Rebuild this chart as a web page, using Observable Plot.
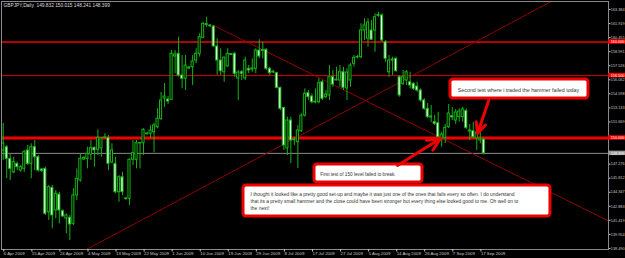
<!DOCTYPE html>
<html><head><meta charset="utf-8">
<script src="https://cdn.jsdelivr.net/npm/d3@7"></script>
<script src="https://cdn.jsdelivr.net/npm/@observablehq/plot@0.6"></script>
<style>
html,body{margin:0;padding:0;background:#000;}
#chart{width:625px;height:258px;overflow:hidden;}
</style></head><body><div id="chart"></div>
<script>
const chartTitle = "GBPJPY,Daily  149.832 150.015 148.241 148.399";
const open = [148.70,149.04,147.83,146.43,147.31,146.61,146.79,148.70,147.31,149.04,148.00,146.72,146.79,142.27,144.81,142.45,144.11,142.37,141.61,141.69,141.06,144.01,145.57,147.76,147.83,148.28,148.98,148.77,148.91,150.00,150.02,147.45,147.31,144.35,145.91,143.65,143.67,147.73,147.73,149.43,149.46,150.42,150.44,150.60,151.13,152.00,154.11,154.01,153.98,158.49,158.77,156.51,156.17,157.24,157.37,158.07,158.77,160.44,161.77,161.72,161.61,159.53,158.07,156.85,157.45,158.65,158.77,156.20,156.85,156.20,157.21,157.13,157.21,159.11,159.06,159.19,157.21,156.92,156.75,155.23,153.14,148.91,151.82,149.84,149.56,150.71,152.34,154.67,154.32,153.80,153.73,155.81,154.25,154.43,156.33,156.09,155.99,156.85,155.16,155.99,157.73,158.44,158.42,161.20,160.36,161.20,161.20,162.71,162.76,159.98,156.85,158.18,158.25,156.33,155.65,155.99,155.81,155.65,155.36,154.95,153.91,153.04,152.24,151.65,151.54,149.92,150.02,151.13,152.29,151.82,152.17,152.17,152.81,150.68,150.71,149.95,149.74,149.832];
const high = [151.51,149.22,148.38,147.99,147.48,147.14,148.70,149.22,149.39,149.74,148.18,146.82,146.96,145.05,145.05,144.53,144.35,142.52,142.10,141.93,144.71,146.79,148.35,148.07,149.04,149.74,149.04,150.85,150.05,150.44,150.26,149.39,148.00,146.09,146.43,143.83,147.83,149.74,149.74,149.56,150.96,150.60,151.30,151.54,153.04,154.74,155.68,154.32,159.11,159.11,160.50,158.59,158.59,157.45,158.59,159.29,160.85,162.06,162.58,161.82,161.72,160.33,159.29,158.42,159.29,158.80,158.94,157.03,157.03,158.42,157.55,158.25,159.29,160.23,159.98,159.29,157.37,157.03,156.85,155.29,153.14,152.17,152.17,150.08,151.30,152.52,155.12,154.95,154.60,155.12,156.17,155.99,154.95,157.55,157.03,157.37,157.55,157.37,157.21,157.73,158.59,158.59,161.90,162.42,162.42,162.24,162.94,163.10,162.94,160.16,158.59,158.42,158.42,156.51,157.03,157.03,156.85,155.78,155.81,155.12,154.11,153.59,153.39,152.34,152.69,150.60,151.41,153.49,153.18,152.97,153.04,153.21,153.02,151.41,151.65,150.89,150.60,150.015];
const low = [147.66,145.78,145.57,146.27,146.61,146.43,146.43,147.14,145.75,146.61,146.43,146.40,141.93,141.41,140.54,141.58,141.06,141.75,140.02,139.32,140.89,143.49,145.40,147.66,146.79,147.66,146.96,148.18,148.00,149.92,146.61,147.31,144.19,143.31,144.01,143.49,142.97,147.14,146.79,146.79,148.18,150.26,149.92,148.46,150.96,151.82,153.18,153.49,153.91,156.69,156.33,155.12,154.95,157.13,155.47,157.73,158.42,160.33,161.54,161.51,159.46,156.51,156.51,155.81,157.37,158.59,156.33,153.91,155.99,155.99,156.69,156.85,156.69,158.25,158.25,157.03,156.51,156.72,155.12,152.86,148.70,148.18,147.34,149.22,146.82,150.60,152.17,153.91,153.56,153.56,153.56,153.91,154.08,153.91,155.29,155.94,155.29,154.95,153.91,155.29,157.37,158.25,158.25,160.16,159.46,160.16,158.94,162.58,159.98,157.90,156.33,156.51,156.85,154.25,155.47,155.47,155.12,154.95,154.77,153.73,152.86,152.03,151.61,151.30,149.92,149.04,149.43,150.99,151.82,151.41,151.65,151.65,150.89,149.74,149.92,148.70,149.39,148.241];
const close = [149.43,147.83,146.79,147.48,146.96,146.96,148.52,147.31,149.04,148.00,146.61,146.56,142.10,144.88,141.93,144.19,142.45,141.82,141.93,140.99,144.01,145.75,147.83,147.92,148.35,148.94,148.70,150.02,149.95,150.05,147.31,148.70,144.35,145.91,144.35,143.70,147.73,148.42,149.46,149.48,150.85,150.47,150.78,151.30,152.00,153.91,154.32,153.80,158.77,158.70,156.51,156.17,157.55,157.34,157.97,158.77,160.50,161.90,161.87,161.65,159.53,158.07,156.96,158.38,158.77,158.75,156.69,156.82,156.69,158.07,157.03,157.24,159.11,158.49,159.17,157.21,156.75,156.82,155.23,153.04,149.22,151.82,149.74,149.77,150.78,152.34,154.60,154.25,153.73,153.70,155.71,154.08,154.53,156.33,155.57,155.99,156.85,155.23,156.82,157.55,158.35,158.39,161.20,161.72,162.03,160.23,162.58,162.81,160.16,158.25,158.07,158.07,156.96,154.43,156.33,156.85,155.47,155.12,154.95,153.91,153.04,152.17,152.14,151.48,150.08,150.36,151.06,152.55,152.14,152.66,152.76,152.97,151.04,150.78,150.08,150.57,149.92,148.399];
const dateLabels = ["6 Apr 2009","15 Apr 2009","24 Apr 2009","4 May 2009","13 May 2009","22 May 2009","1 Jun 2009","10 Jun 2009","19 Jun 2009","29 Jun 2009","8 Jul 2009","17 Jul 2009","27 Jul 2009","5 Aug 2009","14 Aug 2009","26 Aug 2009","7 Sep 2009","17 Sep 2009"];
const barsPerDateLabel = 8;
const priceTicks = [163.384,161.919,160.455,158.991,157.526,156.062,154.598,153.133,151.669,147.276,145.812,144.347,142.883,141.419,139.954,138.490];
const levels = [160.000, 156.500, 150.000];
const bidPrice = 148.399;
const trendUp = [[23.75, 138.39], [141.8, 161.41]];
const trendDown = [[60, 161.72], [172.3, 141.41]];
const notes = [
  {text: "Second test where i traded the hammer failed today", box: [127.5, 166.85, 154.11, 156.09], tx: 129.6, ty: 155.07, size: 5.3, from: [138.4, 153.91], to: [135.2, 150.48]},
  {text: "First test of 150 level failed to break.", box: [88.74, 119.53, 145.36, 147.24], tx: 90.4, ty: 146.3, size: 4.7, from: [112.4, 147.14], to: [124.65, 149.95]},
  {text: "I thought it looked like a pretty good set-up and maybe it was just one of the ones that fails every so often. I do understand\nthat its a pretty small hammer and the close could have been stronger but every thing else looked good to me. Oh well on to\nthe next!", box: [68.5, 156.0, 141.82, 145.05], tx: 70.5, ty: 143.45, size: 4.9}
];

const bars = open.map((o, i) => ({i, open: o, high: high[i], low: low[i], close: close[i]}));
const xDomain = [-0.485, 172.55];
const yDomain = [138.385, 164.219];
const green = "#14b414";
function extend(a, b, xs) {
  const m = (b[1] - a[1]) / (b[0] - a[0]);
  return xs.map(x => ({x, y: a[1] + m * (x - a[0])}));
}
const upLine = extend(trendUp[0], trendUp[1], xDomain);
const downLine = extend(trendDown[0], trendDown[1], [trendDown[0][0], xDomain[1]]);
const tickIdx = dateLabels.map((_, k) => k * barsPerDateLabel);
const labelW = 17 / 3.508;
const arrows = notes.filter(n => n.from);

const chart = Plot.plot({
  width: 625, height: 258,
  marginLeft: 1, marginTop: 1, marginRight: 17, marginBottom: 9,
  style: {background: "#000", color: "#c8c8c8", fontFamily: "'Liberation Sans', Arial, sans-serif"},
  x: {type: "linear", domain: xDomain},
  y: {type: "linear", domain: yDomain},
  marks: [
    Plot.ruleY([bidPrice], {stroke: "#8a8a8a", strokeWidth: 1}),
    Plot.ruleY([levels[0]], {stroke: "#f00000", strokeWidth: 1.6}),
    Plot.ruleY([levels[1]], {stroke: "#d80000", strokeWidth: 1}),
    Plot.ruleY([levels[2]], {stroke: "#f00000", strokeWidth: 3}),
    Plot.line(upLine, {x: "x", y: "y", stroke: "#a00000", strokeWidth: 1, strokeDasharray: "2,1", clip: true}),
    Plot.line(downLine, {x: "x", y: "y", stroke: "#a00000", strokeWidth: 1, strokeDasharray: "2,1", clip: true}),
    Plot.ruleX(bars, {x: "i", y1: "low", y2: "high", stroke: green, strokeWidth: 1}),
    Plot.rect(bars, {x1: d => d.i - 0.3, x2: d => d.i + 0.3, y1: "open", y2: "close",
      fill: d => d.close < d.open ? "#ffffff" : "#000000", stroke: green, strokeWidth: 1}),
    Plot.frame({stroke: "#8a8a8a"}),
    Plot.axisY(priceTicks, {anchor: "right", tickSize: 1.5, tickPadding: 0.8, fontSize: 3.8, tickFormat: d => d.toFixed(3)}),
    Plot.axisX(tickIdx, {anchor: "bottom", tickSize: 2.5, tickPadding: 0, fontSize: 4.3, textAnchor: "start", dx: 0.6,
      tickFormat: d => dateLabels[Math.round(d / barsPerDateLabel)]}),
    Plot.rect(levels, {x1: xDomain[1], x2: xDomain[1] + labelW, y1: d => d - 0.23, y2: d => d + 0.23, fill: "#ff0000"}),
    Plot.text(levels, {x: xDomain[1], y: d => d, dx: 2.2, text: d => d.toFixed(3), textAnchor: "start", fill: "#ffffff", fontSize: 3.8}),
    Plot.rect([bidPrice], {x1: xDomain[1], x2: xDomain[1] + labelW, y1: d => d - 0.23, y2: d => d + 0.23, fill: "#9a9a9a"}),
    Plot.text([bidPrice], {x: xDomain[1], y: d => d, dx: 2.2, text: d => d.toFixed(3), textAnchor: "start", fill: "#ffffff", fontSize: 3.8}),
    Plot.text([chartTitle], {frameAnchor: "top-left", dx: 2, dy: 2.5, textAnchor: "start", lineAnchor: "top", fill: "#dcdcdc", fontSize: 4.8}),
    Plot.rect(notes, {x1: d => d.box[0], x2: d => d.box[1], y1: d => d.box[2], y2: d => d.box[3], fill: "#ffffff", stroke: "#ee0000", strokeWidth: 3, rx: 3}),
    Plot.text(notes, {x: "tx", y: "ty", text: "text", fontSize: d => d.size, textAnchor: "start", lineAnchor: "middle", fill: "#333333", lineHeight: 1.45}),
    Plot.arrow(arrows, {x1: d => d.from[0], y1: d => d.from[1], x2: d => d.to[0], y2: d => d.to[1], stroke: "#ee0000", strokeWidth: 3, headLength: 7, headAngle: 50})
  ]
});
document.getElementById("chart").appendChild(chart);
</script>
</body></html>
